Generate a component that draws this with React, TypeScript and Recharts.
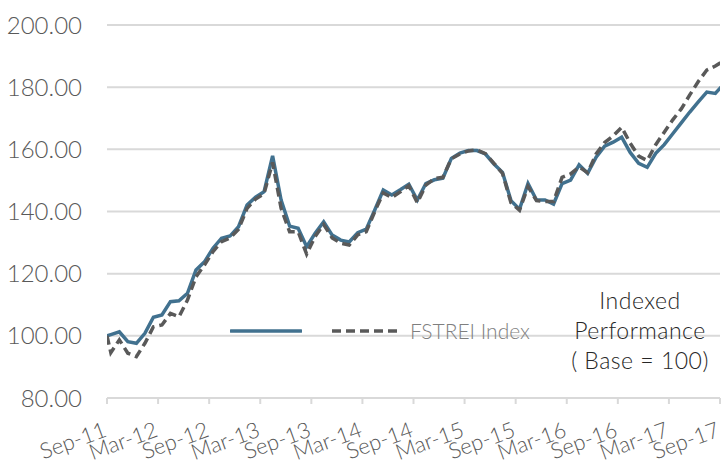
import { LineChart, Line, XAxis, YAxis, CartesianGrid, Legend } from 'recharts';

// x-axis tick labels, every six months
const tickLabels = [
  'Sep-11', 'Mar-12', 'Sep-12', 'Mar-13', 'Sep-13', 'Mar-14', 'Sep-14',
  'Mar-15', 'Sep-15', 'Mar-16', 'Sep-16', 'Mar-17', 'Sep-17',
];

// indexed to 100 at the start of Sep-11
const baseValue = 100;

// monthly observations (mid-month), Sep-11 .. Sep-17
const fund = [
  100.4, 101.3, 98.1, 97.6, 100.8, 106.0, 106.7, 111.0, 111.3, 113.7,
  121.2, 123.8, 128.2, 131.4, 132.1, 135.1, 142.1, 144.6, 146.4, 157.9,
  143.7, 135.3, 134.6, 128.7, 133.0, 136.7, 132.4, 130.8, 130.2, 133.2,
  134.3, 140.5, 146.9, 145.3, 147.0, 148.8, 143.7, 149.0, 150.2, 150.7,
  157.1, 158.8, 159.6, 159.6, 158.5, 155.3, 152.6, 143.5, 140.7, 149.0,
  143.7, 143.7, 142.4, 149.0, 150.1, 155.0, 152.3, 157.5, 161.0, 162.3,
  163.9, 159.0, 155.5, 154.2, 158.7, 161.5, 165.0, 168.5, 172.0, 175.3,
  178.4, 178.0, 181.0,
];

const fstrei = [
  94.6, 98.7, 94.4, 93.3, 97.6, 102.9, 103.5, 107.2, 106.1, 111.5,
  119.0, 122.8, 127.1, 130.3, 131.5, 134.3, 141.0, 144.0, 145.8, 155.8,
  141.0, 133.5, 133.5, 126.3, 132.0, 135.8, 131.5, 129.8, 129.2, 132.5,
  133.5, 140.0, 146.0, 144.5, 146.3, 148.3, 142.8, 148.5, 150.6, 151.0,
  157.0, 158.5, 159.5, 159.8, 158.6, 155.5, 152.3, 142.8, 140.4, 148.0,
  143.5, 143.2, 143.2, 151.0, 152.1, 154.3, 152.5, 158.5, 162.2, 164.3,
  167.1, 162.0, 157.8, 156.4, 161.5, 165.5, 169.5, 173.0, 177.5, 181.8,
  185.5, 186.8, 188.5,
];

const yTicks = [80, 100, 120, 140, 160, 180, 200];

// months since Sep-11; observations sit mid-month
const data = [
  { t: 0, fund: baseValue, fstrei: baseValue },
  ...fund.map((v, i) => ({ t: i + 0.45, fund: v, fstrei: fstrei[i] })),
];
const xTicks = tickLabels.map((_, i) => i * 6);

const FONT = 'Lato, "Open Sans", sans-serif';
const TEAL = '#41718f';
const DASH = '#595959';

function XTick({ x, y, payload }: any) {
  const label = tickLabels[Math.round(payload.value / 6)];
  const ax = x + 1;
  const ay = y + 30;
  return (
    <text
      x={ax}
      y={ay}
      textAnchor='end'
      transform={`rotate(-20, ${ax}, ${ay})`}
      fill='#595959'
      fontSize={22}
      fontFamily={FONT}
      fontWeight={300}
    >
      {label}
    </text>
  );
}

function LegendView() {
  return (
    <div style={{ display: 'flex', alignItems: 'center', fontFamily: FONT, fontWeight: 300 }}>
      <svg width={72} height={8}>
        <line x1={1} y1={4} x2={71} y2={4} stroke={TEAL} strokeWidth={3.5} strokeLinecap='round' />
      </svg>
      <svg width={76} height={8} style={{ marginLeft: 28 }}>
        <line x1={2} y1={4} x2={72} y2={4} stroke={DASH} strokeWidth={3.5} strokeDasharray='9 5' />
      </svg>
      <span style={{ fontSize: 21, color: '#7f7f7f', marginLeft: 4 }}>FSTREI Index</span>
    </div>
  );
}

export default function App() {
  return (
    <div style={{ position: 'absolute', left: 0, top: 0, width: 722, height: 466, background: '#fff' }}>
      <LineChart width={722} height={466} data={data} margin={{ top: 25, right: 2, bottom: 0, left: 0 }}>
        <CartesianGrid vertical={false} stroke='#d9d9d9' strokeWidth={2} />
        <XAxis
          type='number'
          dataKey='t'
          domain={[0, 72]}
          ticks={xTicks}
          allowDataOverflow
          interval={0}
          height={68}
          stroke='#d9d9d9'
          strokeWidth={2}
          tickSize={6}
          tick={<XTick />}
        />
        <YAxis
          domain={[80, 200]}
          ticks={yTicks}
          width={107}
          axisLine={false}
          tickLine={false}
          tickMargin={19}
          tickFormatter={(v: number) => v.toFixed(2)}
          tick={{ fill: '#595959', fontSize: 24, fontFamily: FONT, fontWeight: 300 }}
        />
        <Line
          dataKey='fund'
          name=''
          type='linear'
          stroke={TEAL}
          strokeWidth={3.5}
          dot={false}
          isAnimationActive={false}
        />
        <Line
          dataKey='fstrei'
          name='FSTREI Index'
          type='linear'
          stroke={DASH}
          strokeWidth={3.5}
          strokeDasharray='9 5'
          dot={false}
          isAnimationActive={false}
        />
        <Legend
          layout='vertical'
          align='center'
          verticalAlign='middle'
          content={<LegendView />}
          wrapperStyle={{ left: 230, top: 318, width: 330 }}
        />
      </LineChart>
      <div
        style={{
          position: 'absolute',
          left: 560,
          top: 285,
          width: 160,
          textAlign: 'center',
          fontFamily: FONT,
          fontWeight: 300,
          fontSize: 23,
          letterSpacing: 0.5,
          lineHeight: '30px',
          color: '#262626',
        }}
      >
        Indexed
        <br />
        Performance
        <br />( Base = 100)
      </div>
    </div>
  );
}
